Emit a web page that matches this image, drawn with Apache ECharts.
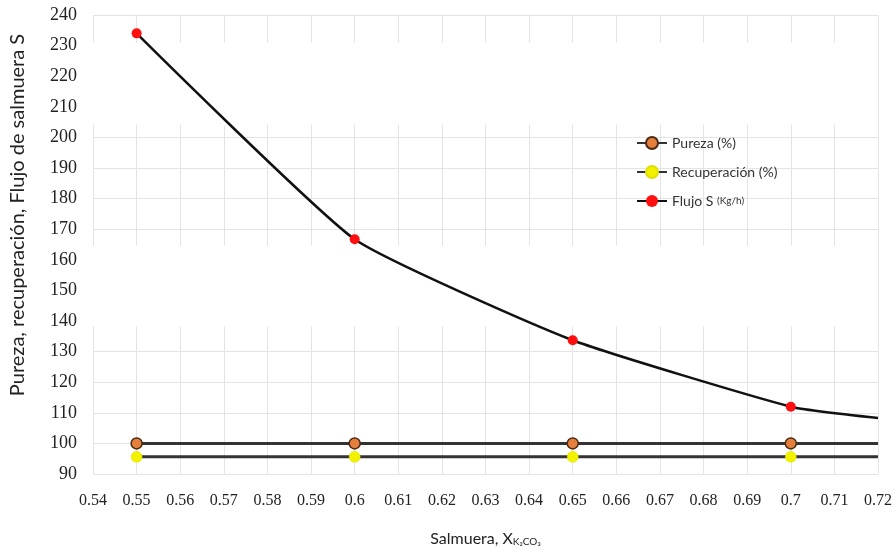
<!DOCTYPE html>
<html>
<head>
<meta charset="utf-8">
<script src="https://cdn.jsdelivr.net/npm/echarts@6/dist/echarts.min.js"></script>
<style>
  html, body { margin: 0; padding: 0; background: #fff; }
  #chart { width: 896px; height: 552px; }
</style>
</head>
<body>
<div id="chart"></div>
<script>
// Brine fraction (x) and the three measured series
const xValues      = [0.55, 0.6, 0.65, 0.7, 0.72];
const pureza       = [100, 100, 100, 100, 100];
const recuperacion = [95.6, 95.6, 95.6, 95.6, 95.6];
const flujo        = [234, 166.7, 133.7, 112, 108.3];
// the last x sits on the right edge of the axis: line only, no marker
const hasMarker    = [true, true, true, true, false];

const xTicks = { min: 0.54, max: 0.72, step: 0.01 };
const yTicks = { min: 90, max: 240, step: 10 };

// horizontal bands where the grid is blanked out
const blankBands = [[230.9, 204.1], [164.6, 138.2]];

function toData(ys) {
  return xValues.map((x, i) => hasMarker[i]
    ? [x, ys[i]]
    : { value: [x, ys[i]], symbol: 'none' });
}

const chart = echarts.init(document.getElementById('chart'), null, { renderer: 'canvas' });

const gridLine = { show: true, lineStyle: { color: '#e4e4e4', width: 1 } };

chart.setOption({
  animation: false,
  backgroundColor: '#ffffff',
  grid: { left: 89, right: 18, top: 15, bottom: 73, containLabel: false },
  legend: {
    orient: 'vertical',
    left: 631,
    top: 131,
    itemWidth: 30,
    itemHeight: 15,
    itemGap: 15,
    data: ['Pureza (%)', 'Recuperación (%)', 'Flujo S (Kg/h)'],
    formatter: function (name) {
      if (name === 'Flujo S (Kg/h)') return 'Flujo S {u|(Kg/h)}';
      return name;
    },
    textStyle: {
      fontFamily: 'Lato, "Open Sans", sans-serif',
      fontSize: 14,
      color: '#333',
      rich: { u: { fontFamily: 'Lato, "Open Sans", sans-serif', fontSize: 10, color: '#333' } }
    }
  },
  xAxis: {
    type: 'value',
    min: xTicks.min,
    max: xTicks.max,
    interval: xTicks.step,
    name: 'Salmuera, X{sub|K₂CO₃}',
    nameLocation: 'middle',
    nameGap: 57,
    nameTextStyle: {
      fontFamily: 'Lato, "Open Sans", sans-serif',
      fontSize: 16,
      color: '#222',
      rich: { sub: { fontFamily: 'Lato, "Open Sans", sans-serif', fontSize: 10, color: '#222', verticalAlign: 'bottom', padding: [6, 0, 0, 0] } }
    },
    axisLine: { show: false },
    axisTick: { show: false },
    splitLine: gridLine,
    axisLabel: {
      margin: 19,
      fontFamily: '"Liberation Serif", serif',
      fontSize: 16,
      color: '#222',
      formatter: v => String(+v.toFixed(2))
    }
  },
  yAxis: {
    type: 'value',
    min: yTicks.min,
    max: yTicks.max,
    interval: yTicks.step,
    name: 'Pureza, recuperación, Flujo de salmuera S',
    nameLocation: 'middle',
    nameRotate: 90,
    nameGap: 65,
    nameTextStyle: {
      fontFamily: 'Lato, "Open Sans", sans-serif',
      fontSize: 20,
      color: '#222',
      padding: [0, 0, 0, 59]
    },
    axisLine: { show: false },
    axisTick: { show: false },
    splitLine: gridLine,
    axisLabel: {
      margin: 16,
      fontFamily: '"Liberation Serif", serif',
      fontSize: 18,
      color: '#222'
    }
  },
  series: [
    {
      // white bands laid over the grid, under the data lines
      name: 'bands',
      type: 'line',
      data: [],
      silent: true,
      z: 1,
      markArea: {
        silent: true,
        itemStyle: { color: '#ffffff', opacity: 1 },
        data: blankBands.map(b => [{ yAxis: b[0] }, { yAxis: b[1] }])
      }
    },
    {
      name: 'Pureza (%)',
      type: 'line',
      z: 3,
      data: toData(pureza),
      symbol: 'circle',
      symbolSize: 11,
      lineStyle: { color: '#333333', width: 3 },
      itemStyle: { color: '#E57F3C', borderColor: '#4a2a14', borderWidth: 1.5 }
    },
    {
      name: 'Recuperación (%)',
      type: 'line',
      z: 3,
      data: toData(recuperacion),
      symbol: 'circle',
      symbolSize: 11,
      lineStyle: { color: '#333333', width: 3 },
      itemStyle: { color: '#F2F200', borderColor: '#e0e000', borderWidth: 0.5 }
    },
    {
      name: 'Flujo S (Kg/h)',
      type: 'line',
      z: 4,
      smooth: 0.15,
      data: toData(flujo),
      symbol: 'circle',
      symbolSize: 10,
      lineStyle: { color: '#111111', width: 2.5 },
      itemStyle: { color: '#FF0F0F', borderColor: '#FF0F0F', borderWidth: 0 }
    }
  ]
});
</script>
</body>
</html>
